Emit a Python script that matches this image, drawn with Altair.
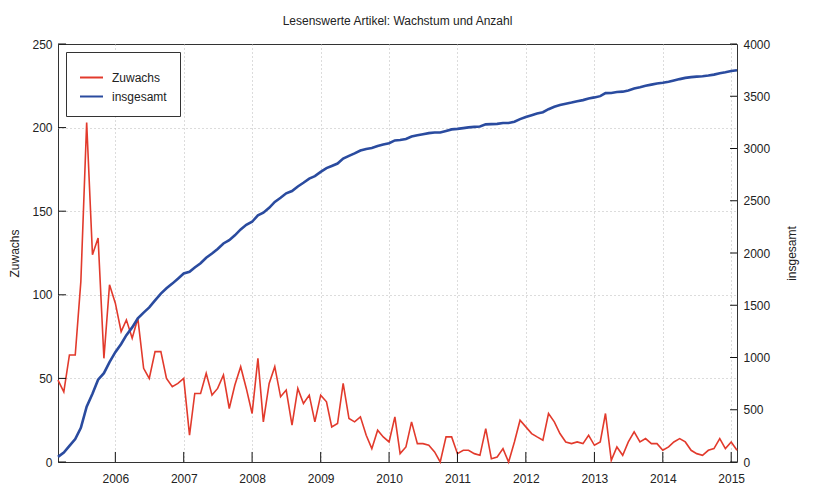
import altair as alt
import pandas as pd

# Monthly data, March 2005 .. February 2015
monate = pd.date_range("2005-03-01", periods=120, freq="MS").strftime("%Y-%m-%d").tolist()

zuwachs = [49, 42, 64, 64, 108, 203, 124, 134, 62, 106,
           95, 78, 85, 74, 86, 56, 50, 66, 66, 50,
           45, 47, 50, 16, 41, 41, 53, 40, 44, 52,
           32, 46, 57, 44, 29, 62, 24, 47, 57, 39,
           43, 22, 44, 35, 40, 24, 40, 36, 21, 23,
           47, 26, 24, 27, 16, 8, 19, 15, 12, 27,
           5, 9, 24, 11, 11, 10, 6, 0, 15, 15,
           5, 7, 7, 5, 4, 20, 2, 3, 8, 0,
           12, 25, 21, 17, 15, 13, 29, 24, 17, 12,
           11, 12, 11, 16, 10, 12, 29, 1, 9, 4,
           12, 18, 12, 14, 11, 11, 7, 9, 12, 14,
           12, 7, 5, 4, 7, 8, 14, 8, 12, 7]

insgesamt = [49, 91, 155, 219, 327, 530, 654, 788, 850, 956,
             1051, 1129, 1214, 1288, 1374, 1430, 1480, 1546, 1612, 1662,
             1707, 1754, 1804, 1820, 1861, 1902, 1955, 1995, 2039, 2091,
             2123, 2169, 2226, 2270, 2299, 2361, 2385, 2432, 2489, 2528,
             2571, 2593, 2637, 2672, 2712, 2736, 2776, 2812, 2833, 2856,
             2903, 2929, 2953, 2980, 2996, 3004, 3023, 3038, 3050, 3077,
             3082, 3091, 3115, 3126, 3137, 3147, 3153, 3153, 3168, 3183,
             3188, 3195, 3202, 3207, 3211, 3231, 3233, 3236, 3244, 3244,
             3256, 3281, 3302, 3319, 3334, 3347, 3376, 3400, 3417, 3429,
             3440, 3452, 3463, 3479, 3489, 3501, 3530, 3531, 3540, 3544,
             3556, 3574, 3586, 3600, 3611, 3622, 3629, 3638, 3650, 3664,
             3676, 3683, 3688, 3692, 3699, 3707, 3721, 3729, 3741, 3748]

jahre = list(range(2006, 2016))
zuwachs_ticks = [0, 50, 100, 150, 200, 250]
insgesamt_ticks = list(range(0, 4001, 500))
serien = ["Zuwachs", "insgesamt"]
farben = ["#e23a2c", "#2a4b9f"]

df = pd.DataFrame({"Monat": monate, "Zuwachs": zuwachs, "insgesamt": insgesamt})
df_xticks = pd.DataFrame({"Monat": [f"{j}-01-01" for j in jahre]})
df_lticks = pd.DataFrame({"Zuwachs": zuwachs_ticks})
df_rticks = pd.DataFrame({"insgesamt": insgesamt_ticks})

FONT = "Liberation Sans"
TXT = "#222222"
TICK = "#111111"

start = alt.DateTime(year=2005, month=3, date=1, utc=True)
ende = alt.DateTime(year=2015, month=2, date=1, utc=True)

x_enc = alt.X(
    "Monat:T",
    scale=alt.Scale(type="utc", nice=False, domain=[start, ende]),
    axis=alt.Axis(
        values=[alt.DateTime(year=j, month=1, date=1, utc=True) for j in jahre],
        format="%Y",
        title=None,
        grid=True,
        gridDash=[1, 3],
        gridColor="#b8b8b8",
        domain=False,
        tickSize=10,
        tickOpacity=0,
        offset=-10,
        labelPadding=11,
        labelFontSize=12,
        labelFont=FONT,
        labelColor=TXT,
    ),
)

farbe = alt.Scale(domain=serien, range=farben)
y_links = alt.Scale(domain=[0, 250], nice=False)
y_rechts = alt.Scale(domain=[0, 4000], nice=False)

red = alt.Chart(df).mark_line(strokeWidth=1.6).encode(
    x=x_enc,
    y=alt.Y(
        "Zuwachs:Q",
        scale=y_links,
        axis=alt.Axis(
            orient="left",
            values=zuwachs_ticks,
            title="Zuwachs",
            grid=True,
            gridDash=[1, 3],
            gridColor="#b8b8b8",
            gridOpacity={"condition": {"test": "datum.value == 0 || datum.value == 250", "value": 0}, "value": 1},
            domain=False,
            tickSize=8,
            tickOpacity=0,
            offset=-8,
            labelPadding=6,
            labelFontSize=12,
            labelFont=FONT,
            labelColor=TXT,
            titleFont=FONT,
            titleFontSize=12,
            titleFontWeight="normal",
            titleColor=TXT,
            titlePadding=10,
        ),
    ),
    color=alt.Color(
        "serie:N",
        scale=farbe,
        legend=alt.Legend(
            title=None,
            orient="top-left",
            offset=8,
            strokeColor="#333333",
            fillColor="white",
            padding=13,
            symbolType="stroke",
            symbolSize=529,
            symbolStrokeWidth=2,
            labelFontSize=12,
            labelFont=FONT,
            labelColor=TXT,
            labelOffset=8,
            rowPadding=0,
        ),
    ),
).transform_calculate(serie="'Zuwachs'")

blue = alt.Chart(df).mark_line(strokeWidth=2.6).encode(
    x=x_enc,
    y=alt.Y(
        "insgesamt:Q",
        scale=y_rechts,
        axis=alt.Axis(
            orient="right",
            values=insgesamt_ticks,
            format="d",
            title="insgesamt",
            grid=False,
            domain=False,
            tickSize=7,
            tickOpacity=0,
            offset=-7,
            labelPadding=6,
            labelFontSize=12,
            labelFont=FONT,
            labelColor=TXT,
            titleFont=FONT,
            titleFontSize=12,
            titleFontWeight="normal",
            titleColor=TXT,
            titleAngle=270,
            titleBaseline="top",
            titlePadding=17,
        ),
    ),
    color=alt.Color("serie:N", scale=farbe),
).transform_calculate(serie="'insgesamt'")

# inward tick marks, placed through the chart's scales
xticks = alt.Chart(df_xticks).mark_rule(color=TICK, strokeWidth=1).encode(
    x=x_enc,
    y=alt.Y(datum=0, scale=y_links, axis=None),
    y2=alt.Y2(datum=6),
)

lticks = alt.Chart(df_lticks).mark_rule(color=TICK, strokeWidth=1).encode(
    x=alt.X(datum=start),
    x2=alt.X2(datum=alt.DateTime(year=2005, month=4, date=13, utc=True)),
    y=alt.Y("Zuwachs:Q", scale=y_links, axis=None),
)

rticks = alt.Chart(df_rticks).mark_rule(color=TICK, strokeWidth=1).encode(
    x=alt.X(datum=alt.DateTime(year=2014, month=12, date=26, utc=True)),
    x2=alt.X2(datum=ende),
    y=alt.Y("insgesamt:Q", scale=y_rechts, axis=None),
)

chart = (
    alt.layer(red, blue, xticks, lticks, rticks)
    .resolve_scale(y="independent")
    .properties(
        width=679,
        height=418,
        title=alt.Title(
            "Lesenswerte Artikel: Wachstum und Anzahl",
            fontSize=12,
            fontWeight="normal",
            font=FONT,
            color=TXT,
            offset=10,
            anchor="middle",
        ),
        padding={"left": 50, "top": 36, "right": 75, "bottom": 22},
        autosize=alt.AutoSizeParams(type="none"),
        background="white",
    )
    .configure_view(stroke="#333333", strokeWidth=1)
)

chart.save("out.html", embed_options={"renderer": "svg", "actions": False})
